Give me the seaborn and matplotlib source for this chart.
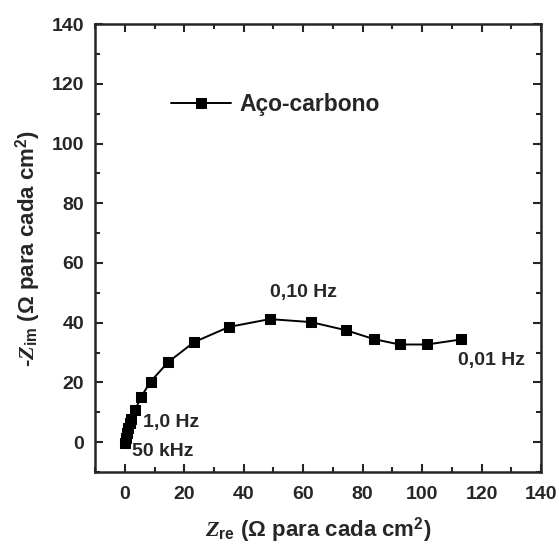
import matplotlib
matplotlib.use("Agg")
import matplotlib.pyplot as plt
import seaborn as sns
import pandas as pd
from matplotlib.ticker import MultipleLocator

# Nyquist data (Ohm per cm2)
z_re = [0.2, 0.4, 0.7, 1.2, 1.7, 2.2, 3.5, 5.4, 8.7, 14.6, 23.3, 35.1, 48.8,
        62.6, 74.3, 83.8, 92.4, 101.6, 113.2]
z_im = [-0.4, 1.3, 3.0, 4.7, 6.3, 7.9, 10.7, 15.0, 20.3, 26.8, 33.5, 38.6, 41.2,
        40.2, 37.5, 34.5, 32.7, 32.7, 34.4]
series_name = "Aço-carbono"

freq_labels = ["50 kHz", "1,0 Hz", "0,10 Hz", "0,01 Hz"]
freq_x = [2.4, 6.0, 49.0, 112.0]
freq_y = [-3.3, 6.7, 50.2, 27.5]

df = pd.DataFrame({"Zre": z_re, "Zim": z_im, "serie": series_name})

sns.set_style("ticks")
plt.rcParams["font.family"] = ["Liberation Sans", "DejaVu Sans"]
plt.rcParams["font.weight"] = "bold"
plt.rcParams["mathtext.fontset"] = "custom"
plt.rcParams["mathtext.it"] = "Liberation Serif:italic:bold"
plt.rcParams["mathtext.rm"] = "Liberation Sans:bold"
plt.rcParams["mathtext.bf"] = "Liberation Sans:bold"

fig = plt.figure(figsize=(5.59, 5.48), dpi=100)
ax = fig.add_axes([0.170, 0.1387, 0.798, 0.8173])

sns.lineplot(data=df, x="Zre", y="Zim", hue="serie", palette=["black"],
             sort=False, marker="s", markersize=6.5, markeredgecolor="black",
             linewidth=1.4, ax=ax)

for lbl, x, y in zip(freq_labels, freq_x, freq_y):
    ax.text(x, y, lbl, fontsize=14, fontweight="bold", va="center", ha="left")

ax.set_xlim(-10, 140)
ax.set_ylim(-10, 140)
ax.xaxis.set_major_locator(MultipleLocator(20))
ax.xaxis.set_minor_locator(MultipleLocator(10))
ax.yaxis.set_major_locator(MultipleLocator(20))
ax.yaxis.set_minor_locator(MultipleLocator(10))
ax.tick_params(which="both", direction="in", top=True, right=True, width=1.5)
ax.tick_params(which="major", length=6, labelsize=14, pad=8)
ax.tick_params(axis="x", which="major", pad=10)
ax.tick_params(which="minor", length=3.5)
for lab in ax.get_xticklabels() + ax.get_yticklabels():
    lab.set_fontweight("bold")
for sp in ax.spines.values():
    sp.set_linewidth(1.8)

ax.set_xlabel(r"$Z_{\rm re}$ (Ω para cada cm$^{\rm 2}$)", fontsize=16, fontweight="bold", labelpad=9)
ax.set_ylabel(r"-$Z_{\rm im}$ (Ω para cada cm$^{\rm 2}$)", fontsize=16, fontweight="bold", labelpad=6)

leg = ax.legend(loc="center left", bbox_to_anchor=(0.125, 0.82), frameon=False,
                handlelength=2.6, handletextpad=0.35, prop={"weight": "bold", "size": 16.5})

fig.savefig("out.png", dpi=100)
